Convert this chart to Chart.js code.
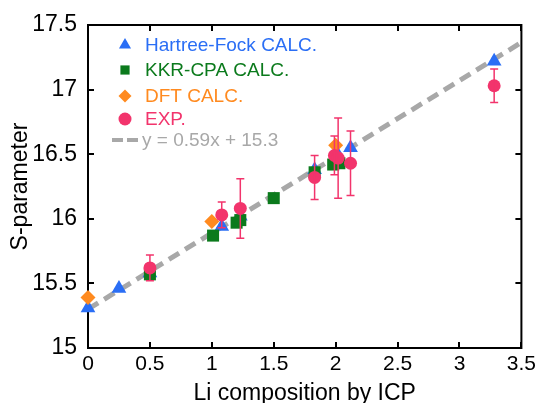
<!DOCTYPE html>
<html>
<head>
<meta charset="utf-8">
<script src="https://cdn.jsdelivr.net/npm/chart.js@4.4.0/dist/chart.umd.min.js"></script>
<style>
  html, body { margin: 0; padding: 0; background: #fff; }
  #wrap { width: 540px; height: 403px; }
</style>
</head>
<body>
<div id="wrap"><canvas id="chart" width="540" height="403"></canvas></div>
<script>
// Hartree-Fock calculation
const hfX = [0, 0.25, 0.5, 1.08, 1.23, 1.83, 2.01, 2.12, 3.28]
const hfY = [15.31, 15.46, 15.58, 15.94, 16.02, 16.38, 16.51, 16.55, 17.22]
// KKR-CPA calculation
const kkrX = [0.5, 1.01, 1.2, 1.23, 1.5, 1.83, 1.98, 2.03]
const kkrY = [15.57, 15.87, 15.97, 15.99, 16.16, 16.36, 16.42, 16.43]
// DFT calculation
const dftX = [0, 1.0, 2.0]
const dftY = [15.39, 15.98, 16.57]
// experiment, with error bars
const expX = [0.5, 1.08, 1.23, 1.83, 1.99, 2.02, 2.12, 3.28]
const expY = [15.62, 16.03, 16.08, 16.32, 16.49, 16.47, 16.43, 17.03]
const expErr = [0.1, 0.1, 0.23, 0.17, 0.15, 0.31, 0.25, 0.13]
// linear fit y = 0.59x + 15.3
const fitX = [0, 3.5]
const fitY = [15.3, 17.365]

const legendLabels = ['Hartree-Fock CALC.', 'KKR-CPA CALC.', 'DFT CALC.', 'EXP.', 'y = 0.59x + 15.3']

const BLUE = '#2a6ef5'
const GREEN = '#0b7a1c'
const ORANGE = '#ff8a1f'
const PINK = '#f2346c'
const GREY = '#a8a8a8'
const FONT = 'Arial, "Liberation Sans", Helvetica, sans-serif'

function pts(xs, ys) {
	return xs.map((x, i) => ({ x: x, y: ys[i] }))
}

function marker(ctx, style, x, y, r, color) {
	ctx.save()
	ctx.fillStyle = color
	ctx.beginPath()
	if (style === 'triangle') {
		ctx.moveTo(x, y - r)
		ctx.lineTo(x + r * 0.866, y + r * 0.5)
		ctx.lineTo(x - r * 0.866, y + r * 0.5)
		ctx.closePath()
	} else if (style === 'rect') {
		ctx.rect(x - r * 0.707, y - r * 0.707, r * 1.414, r * 1.414)
	} else if (style === 'rectRot') {
		ctx.moveTo(x, y - r)
		ctx.lineTo(x + r, y)
		ctx.lineTo(x, y + r)
		ctx.lineTo(x - r, y)
		ctx.closePath()
	} else {
		ctx.arc(x, y, r, 0, Math.PI * 2)
	}
	ctx.fill()
	ctx.restore()
}

// frame with inward ticks on all four sides
const framePlugin = {
	id: 'frame',
	beforeDatasetsDraw(chart) {
		const ctx = chart.ctx
		const a = chart.chartArea
		const xs = chart.scales.x
		const ys = chart.scales.y
		ctx.save()
		ctx.strokeStyle = '#000'
		ctx.lineWidth = 2
		ctx.strokeRect(a.left, a.top, a.right - a.left, a.bottom - a.top)
		ctx.beginPath()
		xs.ticks.forEach(t => {
			const px = Math.round(xs.getPixelForValue(t.value))
			ctx.moveTo(px, a.bottom); ctx.lineTo(px, a.bottom - 6)
			ctx.moveTo(px, a.top); ctx.lineTo(px, a.top + 6)
		})
		ys.ticks.forEach(t => {
			const py = Math.round(ys.getPixelForValue(t.value))
			ctx.moveTo(a.left, py); ctx.lineTo(a.left + 6, py)
			ctx.moveTo(a.right, py); ctx.lineTo(a.right - 6, py)
		})
		ctx.stroke()
		ctx.restore()
	}
}

// error bars for the experimental points + legend
const extrasPlugin = {
	id: 'extras',
	afterDatasetsDraw(chart) {
		const ctx = chart.ctx
		const xs = chart.scales.x
		const ys = chart.scales.y
		ctx.save()
		ctx.strokeStyle = PINK
		ctx.lineWidth = 1.5
		ctx.beginPath()
		expX.forEach((x, i) => {
			const px = xs.getPixelForValue(x)
			const top = ys.getPixelForValue(expY[i] + expErr[i])
			const bot = ys.getPixelForValue(expY[i] - expErr[i])
			ctx.moveTo(px, top); ctx.lineTo(px, bot)
			ctx.moveTo(px - 4, top); ctx.lineTo(px + 4, top)
			ctx.moveTo(px - 4, bot); ctx.lineTo(px + 4, bot)
		})
		ctx.stroke()
		ctx.restore()
	},
	afterDraw(chart) {
		const ctx = chart.ctx
		const styles = ['triangle', 'rect', 'rectRot', 'circle']
		const colors = [BLUE, GREEN, ORANGE, PINK]
		const rows = [45, 70, 96, 119, 140]
		ctx.save()
		ctx.font = '19px ' + FONT
		ctx.textBaseline = 'middle'
		for (let i = 0; i < 4; i++) {
			marker(ctx, styles[i], 125, rows[i], i === 0 ? 7 : 6.5, colors[i])
			ctx.fillStyle = colors[i]
			ctx.fillText(legendLabels[i], 145, rows[i] + 1)
		}
		ctx.strokeStyle = GREY
		ctx.lineWidth = 4
		ctx.setLineDash([11, 4])
		ctx.beginPath()
		ctx.moveTo(112, rows[4]); ctx.lineTo(138, rows[4])
		ctx.stroke()
		ctx.fillStyle = GREY
		ctx.fillText(legendLabels[4], 142, rows[4] + 1)
		ctx.restore()
	}
}

const ctx = document.getElementById('chart')
new Chart(ctx, {
	type: 'scatter',
	data: {
		datasets: [
			{
				label: 'EXP.', data: pts(expX, expY), order: 0, clip: false,
				pointStyle: 'circle', pointRadius: 6.5, backgroundColor: PINK, borderColor: PINK, borderWidth: 0
			},
			{
				label: 'DFT CALC.', data: pts(dftX, dftY), order: 1, clip: false,
				pointStyle: 'rectRot', pointRadius: 7.5, backgroundColor: ORANGE, borderColor: ORANGE, borderWidth: 0
			},
			{
				label: 'KKR-CPA CALC.', data: pts(kkrX, kkrY), order: 2, clip: false,
				pointStyle: 'rect', pointRadius: 8.5, backgroundColor: GREEN, borderColor: GREEN, borderWidth: 0
			},
			{
				label: 'Hartree-Fock CALC.', data: pts(hfX, hfY), order: 3, clip: false,
				pointStyle: 'triangle', pointRadius: 8.5, backgroundColor: BLUE, borderColor: BLUE, borderWidth: 0
			},
			{
				type: 'line', label: 'fit', data: pts(fitX, fitY), order: 4, clip: false,
				borderColor: GREY, borderWidth: 5, borderDash: [12, 7], pointRadius: 0, fill: false
			}
		]
	},
	options: {
		responsive: false,
		animation: false,
		events: [],
		layout: { padding: { top: 25, right: 18, left: 0, bottom: 0 } },
		plugins: {
			legend: { display: false },
			tooltip: { enabled: false }
		},
		scales: {
			x: {
				type: 'linear', min: 0, max: 3.5,
				grid: { display: false, drawTicks: false },
				border: { display: false },
				ticks: { stepSize: 0.5, color: '#000', font: { family: FONT, size: 21 }, padding: 4, maxRotation: 0,
					callback: v => String(v) },
				title: { display: true, text: 'Li composition by ICP', color: '#000',
					font: { family: FONT, size: 23, lineHeight: 0.8 }, padding: { top: 0, bottom: 0 } },
				afterFit(scale) { scale.height = 55 }
			},
			y: {
				type: 'linear', min: 15, max: 17.5,
				grid: { display: false, drawTicks: false },
				border: { display: false },
				ticks: { stepSize: 0.5, color: '#000', font: { family: FONT, size: 23 }, padding: 11,
					callback: v => String(v) },
				title: { display: true, text: 'S-parameter', color: '#000', font: { family: FONT, size: 23 }, padding: { top: 7, bottom: 0 } },
				afterFit(scale) { scale.width = 88 }
			}
		}
	},
	plugins: [framePlugin, extrasPlugin]
})
</script>
</body>
</html>
